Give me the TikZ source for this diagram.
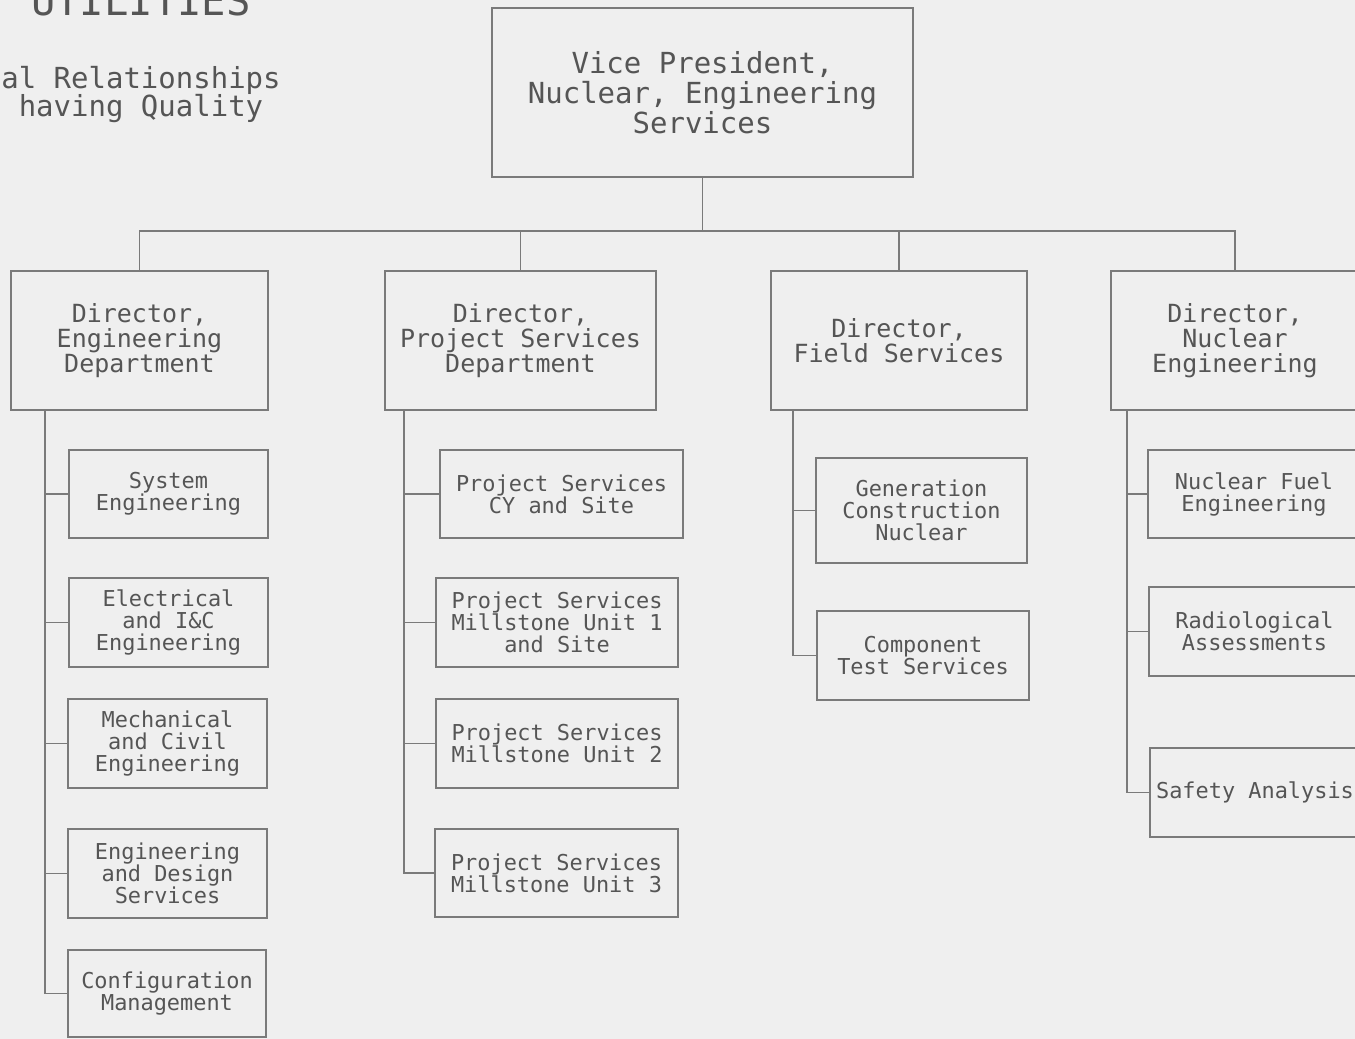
\documentclass[tikz,border=0pt]{standalone}
\usepackage{fontspec}
\newfontfamily\plotfont{DejaVu Sans Mono}
\definecolor{paper}{HTML}{EFEFEF}
\definecolor{ink}{HTML}{555555}
\definecolor{rule}{HTML}{7A7A7A}
\tikzset{
  unit/.style={draw=rule, line width=1.1pt, text=ink, align=center, inner sep=0pt},
  vpbox/.style={unit, font=\plotfont\fontsize{29}{30}\selectfont},
  dirbox/.style={unit, minimum height=139pt, font=\plotfont\fontsize{25}{25}\selectfont},
  subbox/.style={unit, font=\plotfont\fontsize{21.9}{22}\selectfont},
  heading/.style={text=ink, inner sep=0pt},
  link/.style={draw=rule, line width=1.1pt},
}
\begin{document}
\begin{tikzpicture}[x=1pt, y=-1pt]
      \useasboundingbox (0,0) rectangle (1355,1039);
      \clip (0,0) rectangle (1355,1039);
      \fill[paper] (0,0) rectangle (1355,1039);
      % title, cut off by the page edge
      \node[heading, anchor=base west, font=\plotfont\fontsize{40.5}{40}\selectfont] (util) at (31,15) {UTILITIES};
      \node[heading, anchor=base, font=\plotfont\fontsize{29}{30}\selectfont] (rel) at (141,88) {al Relationships};
      \node[heading, anchor=base, font=\plotfont\fontsize{29}{30}\selectfont] (qual) at (141,116) {having Quality};
      % top and directors
      \node[vpbox, minimum width=421pt, minimum height=169pt] (vp) at (702.5,92.5) {Vice President,\\Nuclear, Engineering\\Services};
      \node[dirbox, minimum width=257pt] (eng) at (139.5,340.5) {Director,\\Engineering\\Department};
      \node[dirbox, minimum width=271pt] (prj) at (520.5,340.5) {Director,\\Project Services\\Department};
      \node[dirbox, minimum width=256pt] (fld) at (899,340.5) {Director,\\Field Services};
      \node[dirbox, minimum width=248pt] (nuc) at (1235,340.5) {Director,\\Nuclear\\Engineering};
      % engineering department
      \node[subbox, minimum width=199pt, minimum height=88pt] (sys) at (168.5,494) {System\\Engineering};
      \node[subbox, minimum width=199pt, minimum height=89pt] (elec) at (168.5,622.5) {Electrical\\and I\&C\\Engineering};
      \node[subbox, minimum width=199pt, minimum height=89pt] (mech) at (167.5,743.5) {Mechanical\\and Civil\\Engineering};
      \node[subbox, minimum width=199pt, minimum height=89pt] (des) at (167.5,873.5) {Engineering\\and Design\\Services};
      \node[subbox, minimum width=198pt, minimum height=87pt] (cfg) at (167,993.5) {Configuration\\Management};
      % project services department
      \node[subbox, minimum width=243pt, minimum height=88pt] (psa) at (561.5,494) {Project Services\\CY and Site};
      \node[subbox, minimum width=242pt, minimum height=89pt] (ps1) at (557,622.5) {Project Services\\Millstone Unit 1\\and Site};
      \node[subbox, minimum width=242pt, minimum height=89pt] (ps2) at (557,743.5) {Project Services\\Millstone Unit 2};
      \node[subbox, minimum width=243pt, minimum height=88pt] (ps3) at (556.5,873) {Project Services\\Millstone Unit 3};
      % field services
      \node[subbox, minimum width=211pt, minimum height=105pt] (gen) at (921.5,510.5) {Generation\\Construction\\Nuclear};
      \node[subbox, minimum width=212pt, minimum height=89pt] (cmp) at (923,655.5) {Component\\Test Services};
      % nuclear engineering
      \node[subbox, minimum width=212pt, minimum height=88pt] (nfe) at (1254,494) {Nuclear Fuel\\Engineering};
      \node[subbox, minimum width=211pt, minimum height=89pt] (rad) at (1254.5,631.5) {Radiological\\Assessments};
      \node[subbox, minimum width=210pt, minimum height=89pt] (saf) at (1255,792.5) {Safety Analysis};
      \coordinate (hub) at (702.5,231);
      \coordinate (engbus) at (45,410);
      \coordinate (prjbus) at (404,410);
      \coordinate (fldbus) at (793,410);
      \coordinate (nucbus) at (1127,410);
      \begin{scope}[link]
        \draw (vp.south) -- (hub);
        \draw (hub) -| (eng.north);
        \draw (hub) -| (prj.north);
        \draw (hub) -| (fld.north);
        \draw (hub) -| (nuc.north);
        \draw (engbus) |- (sys.west);
        \draw (engbus) |- (elec.west);
        \draw (engbus) |- (mech.west);
        \draw (engbus) |- (des.west);
        \draw (engbus) |- (cfg.west);
        \draw (prjbus) |- (psa.west);
        \draw (prjbus) |- (ps1.west);
        \draw (prjbus) |- (ps2.west);
        \draw (prjbus) |- (ps3.west);
        \draw (fldbus) |- (gen.west);
        \draw (fldbus) |- (cmp.west);
        \draw (nucbus) |- (nfe.west);
        \draw (nucbus) |- (rad.west);
        \draw (nucbus) |- (saf.west);
      \end{scope}
    \end{tikzpicture}
\end{document}
